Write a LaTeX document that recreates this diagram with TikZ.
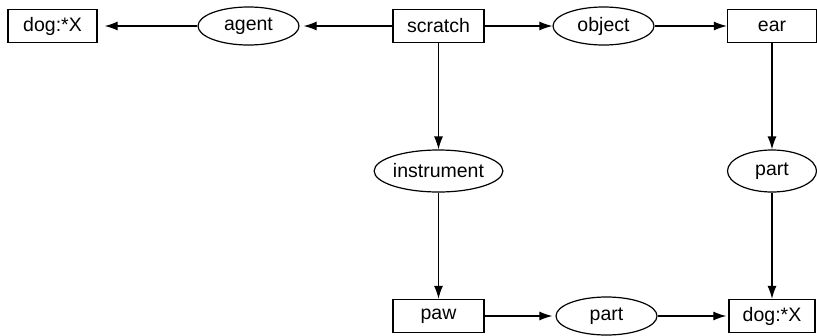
\documentclass[tikz,border=0pt]{standalone}
\usepackage{fontspec}
\setmainfont{Liberation Sans}
\usetikzlibrary{shapes.geometric,arrows.meta}
\begin{document}
\begin{tikzpicture}[x=1pt,y=-1pt,
  font=\fontsize{19.5}{23}\selectfont,
  box/.style={draw, line width=1.3pt, minimum height=33pt, inner sep=0pt},
  rel/.style={ellipse, draw, line width=1.2pt, minimum width=101pt, minimum height=38pt, inner sep=0pt},
  arr/.style={-{Latex[length=13pt,width=9pt]}, line width=1.2pt}]
\useasboundingbox (0,0) rectangle (817,335);
\node[box, minimum width=89pt] (dogA) at (52.5,26) {dog:*X};
\node[rel] (agent) at (248.5,26) {agent};
\node[box, minimum width=91pt] (scratch) at (438.5,26) {scratch};
\node[rel] (object) at (603.5,26) {object};
\node[box, minimum width=89pt] (ear) at (772,26) {ear};
\node[rel, minimum width=118pt, minimum height=42pt] (instr) at (438.5,171) {instrument};
\node[rel, minimum width=89pt, minimum height=42pt] (partR) at (772,171) {part};
\node[box, minimum width=91pt] (paw) at (438.5,316) {paw};
\node[rel] (partB) at (606.5,316) {part};
\node[box, minimum width=86pt] (dogB) at (772,316) {dog:*X};
\draw[arr, shorten >=7pt] (agent) -- (dogA);
\draw[arr, shorten >=4pt] (scratch) -- (agent);
\draw[arr] (scratch) -- (object);
\draw[arr] (object) -- (ear);
\draw[arr] (scratch) -- (instr);
\draw[arr] (instr) -- (paw);
\draw[arr] (ear) -- (partR);
\draw[arr] (partR) -- (dogB);
\draw[arr, shorten >=3pt] (paw) -- (partB);
\draw[arr, shorten >=2pt] (partB) -- (dogB);
\end{tikzpicture}
\end{document}
